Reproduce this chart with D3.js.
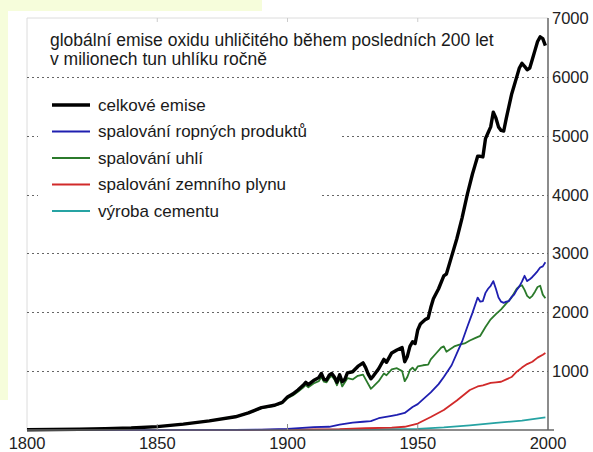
<!DOCTYPE html>
<html lang="cs">
<head>
<meta charset="utf-8">
<title>globální emise oxidu uhličitého</title>
<script src="https://d3js.org/d3.v7.min.js"></script>
<style>
body { margin: 0; background: #fff; }
svg { display: block; font-family: "Liberation Sans", Arial, sans-serif; }
</style>
</head>
<body>
<div id="chart"></div>
<script>
// data: [rok, miliony tun uhlíku]
var celkove = [[1800,5],[1810,8],[1820,12],[1830,22],[1840,35],[1850,58],[1860,100],[1870,155],[1880,225],[1885,290],[1890,380],[1895,420],[1898,470],[1900,560],[1902,610],[1904,680],[1906,760],[1907,810],[1908,770],[1910,840],[1912,890],[1913,960],[1914,860],[1915,850],[1916,930],[1917,960],[1918,900],[1919,810],[1920,940],[1921,820],[1922,860],[1923,970],[1925,990],[1927,1080],[1929,1140],[1930,1060],[1931,950],[1932,870],[1933,920],[1935,1040],[1937,1200],[1938,1150],[1940,1310],[1942,1360],[1944,1400],[1945,1160],[1946,1250],[1947,1420],[1948,1500],[1949,1470],[1950,1700],[1951,1800],[1953,1880],[1954,1900],[1955,2080],[1956,2230],[1958,2400],[1960,2620],[1961,2650],[1963,2950],[1965,3250],[1967,3600],[1969,4000],[1971,4350],[1972,4500],[1973,4650],[1974,4650],[1975,4640],[1976,4950],[1977,5050],[1978,5150],[1979,5400],[1980,5300],[1981,5150],[1982,5090],[1983,5080],[1984,5300],[1985,5500],[1986,5700],[1987,5850],[1988,6000],[1989,6150],[1990,6230],[1991,6180],[1992,6120],[1993,6150],[1994,6300],[1995,6450],[1996,6600],[1997,6680],[1998,6650],[1999,6530]];

var ropa = [[1800,0],[1870,1],[1880,3],[1890,8],[1900,20],[1910,50],[1916,55],[1920,90],[1925,125],[1929,140],[1932,150],[1935,200],[1940,240],[1942,256],[1945,290],[1948,390],[1950,440],[1952,520],[1955,640],[1958,780],[1960,900],[1963,1100],[1965,1300],[1967,1500],[1969,1750],[1971,1990],[1973,2250],[1974,2180],[1975,2190],[1976,2330],[1977,2400],[1978,2450],[1979,2530],[1980,2400],[1981,2250],[1982,2180],[1983,2160],[1984,2180],[1985,2190],[1986,2260],[1987,2300],[1988,2380],[1989,2440],[1990,2520],[1991,2620],[1992,2530],[1993,2560],[1994,2600],[1995,2650],[1996,2700],[1997,2760],[1998,2780],[1999,2850]];

var uhli = [[1800,5],[1810,8],[1820,12],[1830,22],[1840,35],[1850,58],[1860,100],[1870,154],[1880,222],[1885,285],[1890,372],[1895,410],[1898,455],[1900,540],[1902,585],[1904,650],[1906,720],[1907,765],[1908,725],[1910,790],[1912,830],[1913,900],[1914,820],[1915,810],[1916,880],[1917,920],[1918,860],[1919,760],[1920,880],[1921,740],[1923,880],[1925,860],[1927,920],[1929,940],[1930,860],[1932,700],[1933,740],[1935,830],[1937,960],[1938,930],[1940,1030],[1942,1050],[1944,1000],[1945,830],[1946,900],[1947,1020],[1948,1060],[1949,1010],[1950,1080],[1952,1100],[1954,1110],[1955,1200],[1957,1300],[1959,1400],[1960,1420],[1961,1330],[1962,1360],[1964,1420],[1966,1450],[1968,1470],[1970,1520],[1972,1560],[1974,1600],[1976,1750],[1978,1880],[1980,1970],[1982,2050],[1984,2150],[1986,2250],[1988,2400],[1989,2440],[1990,2460],[1991,2380],[1992,2280],[1993,2240],[1994,2280],[1995,2350],[1996,2430],[1997,2450],[1998,2300],[1999,2240]];

var plyn = [[1800,0],[1885,0],[1900,5],[1910,10],[1920,15],[1930,30],[1940,40],[1945,55],[1950,110],[1955,220],[1960,340],[1965,500],[1970,680],[1973,740],[1975,760],[1978,800],[1980,810],[1982,820],[1984,860],[1986,900],[1988,990],[1990,1060],[1992,1120],[1994,1160],[1996,1230],[1998,1280],[1999,1310]];

var cement = [[1800,0],[1920,5],[1930,10],[1940,15],[1950,20],[1960,45],[1970,80],[1980,120],[1990,160],[1999,215]];

var xTicks = [1800, 1850, 1900, 1950, 2000];
var yTicks = [1000, 2000, 3000, 4000, 5000, 6000, 7000];
var titleLines = ["globální emise oxidu uhličitého během posledních 200 let",
                  "v milionech tun uhlíku ročně"];

var series = [
  {name: "celkové emise", values: celkove, color: "#000000", w: 3.4},
  {name: "spalování ropných produktů", values: ropa, color: "#1f1fb0", w: 1.8},
  {name: "spalování uhlí", values: uhli, color: "#2b7a2b", w: 1.8},
  {name: "spalování zemního plynu", values: plyn, color: "#d12a2a", w: 1.8},
  {name: "výroba cementu", values: cement, color: "#26a3a3", w: 1.8}
];

var W = 593, H = 452;
var margin = {left: 27, right: 548, top: 18, bottom: 430};

var svg = d3.select("#chart").append("svg")
  .attr("width", W)
  .attr("height", H);

// pale background strips of the original page
svg.append("rect").attr("x", 0).attr("y", 0).attr("width", 262).attr("height", 11).attr("fill", "#f6fddb");
svg.append("rect").attr("x", 0).attr("y", 0).attr("width", 8).attr("height", 400).attr("fill", "#f6fddb");

var x = d3.scaleLinear().domain([1800, 2000]).range([margin.left, margin.right]);
var y = d3.scaleLinear().domain([0, 7000]).range([margin.bottom, margin.top]);

// light frame at top and left
svg.append("line").attr("x1", margin.left).attr("x2", margin.right)
  .attr("y1", margin.top).attr("y2", margin.top)
  .attr("stroke", "#dcdcdc");
svg.append("line").attr("x1", margin.left).attr("x2", margin.left)
  .attr("y1", margin.top).attr("y2", margin.bottom)
  .attr("stroke", "#dcdcdc");
svg.selectAll("topTicks")
  .data(xTicks.slice(1, -1))
  .enter()
  .append("line")
    .attr("x1", function(d) { return x(d); })
    .attr("x2", function(d) { return x(d); })
    .attr("y1", margin.top)
    .attr("y2", margin.top + 4)
    .attr("stroke", "#cccccc");

// dotted gridlines
svg.selectAll("grid")
  .data(yTicks.slice(0, -1))
  .enter()
  .append("line")
    .attr("x1", margin.left)
    .attr("x2", margin.right)
    .attr("y1", function(d) { return Math.round(y(d)) + 0.5; })
    .attr("y2", function(d) { return Math.round(y(d)) + 0.5; })
    .attr("stroke", "#666")
    .attr("stroke-dasharray", "2,3");

// title
svg.selectAll("titleText")
  .data(titleLines)
  .enter()
  .append("text")
    .attr("x", 50)
    .attr("y", function(d, i) { return 46 + i * 18.5; })
    .style("font-size", "17.5px")
    .style("fill", "#1a1a1a")
    .text(function(d) { return d; });

// lines
var line = d3.line()
  .x(function(d) { return x(d[0]); })
  .y(function(d) { return y(d[1]); });

svg.selectAll("myLines")
  .data(series.slice().reverse())
  .enter()
  .append("path")
    .attr("d", function(d) { return line(d.values); })
    .attr("stroke", function(d) { return d.color; })
    .attr("stroke-width", function(d) { return d.w; })
    .attr("stroke-linejoin", "round")
    .attr("fill", "none");

// legend
var legend = svg.selectAll("legendRows")
  .data(series)
  .enter()
  .append("g")
    .attr("transform", function(d, i) { return "translate(0," + (105 + i * 26.5) + ")"; });

var legendBg = legend.append("rect")
  .attr("x", 38)
  .attr("y", -13)
  .attr("height", 26.5)
  .attr("fill", "#fff");

legend.append("line")
  .attr("x1", 52).attr("x2", 90)
  .attr("y1", 0).attr("y2", 0)
  .attr("stroke", function(d) { return d.color; })
  .attr("stroke-width", function(d) { return d.w; });

var legendText = legend.append("text")
  .attr("x", 98)
  .attr("y", 5.5)
  .style("font-size", "17px")
  .style("fill", "#1a1a1a")
  .text(function(d) { return d.name; });

legendText.each(function(d) { d.tw = this.getComputedTextLength(); });
legendBg.attr("width", function(d) { return 98 - 38 + d.tw + 35; });

// right axis
svg.append("line").attr("x1", margin.right).attr("x2", margin.right)
  .attr("y1", margin.top).attr("y2", margin.bottom)
  .attr("stroke", "#666").attr("stroke-width", 1.5);
svg.selectAll("yLabels")
  .data(yTicks)
  .enter()
  .append("text")
    .attr("x", margin.right + 4)
    .attr("y", function(d) { return y(d); })
    .attr("dy", "0.36em")
    .style("font-size", "16.5px")
    .style("fill", "#222")
    .text(function(d) { return d; });

// bottom axis
svg.append("line").attr("x1", margin.left).attr("x2", margin.right + 6)
  .attr("y1", margin.bottom).attr("y2", margin.bottom)
  .attr("stroke", "#666").attr("stroke-width", 1.5);
svg.selectAll("xTickMarks")
  .data(xTicks.slice(1, -1))
  .enter()
  .append("line")
    .attr("x1", function(d) { return x(d); })
    .attr("x2", function(d) { return x(d); })
    .attr("y1", margin.bottom)
    .attr("y2", margin.bottom - 6)
    .attr("stroke", "#888");
svg.selectAll("xLabels")
  .data(xTicks)
  .enter()
  .append("text")
    .attr("x", function(d) { return x(d); })
    .attr("y", 449)
    .attr("text-anchor", "middle")
    .style("font-size", "16.5px")
    .style("fill", "#222")
    .text(function(d) { return d; });
</script>
</body>
</html>
